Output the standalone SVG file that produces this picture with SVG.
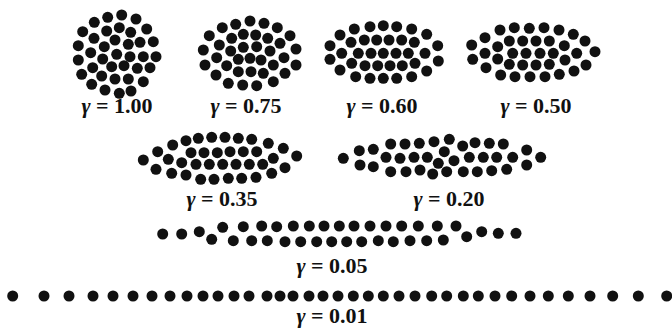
<svg xmlns="http://www.w3.org/2000/svg" xmlns:xlink="http://www.w3.org/1999/xlink" width="672" height="330" viewBox="0 0 672 330">
<style>
.bg{fill:#ffffff}
use{fill:#111111}
text{font-family:"Liberation Serif","Times New Roman",serif;font-size:22px;font-weight:bold;fill:#111111;text-anchor:middle}
.g{font-style:italic}
</style>
<defs><circle id="d" r="5.5"/></defs>
<rect class="bg" width="672" height="330"/>
<g id="c100">
<use href="#d" x="121.7" y="15"/><use href="#d" x="107.7" y="17.3"/><use href="#d" x="136" y="19"/><use href="#d" x="94.3" y="22.3"/>
<use href="#d" x="119.3" y="27.7"/><use href="#d" x="146.7" y="29"/><use href="#d" x="106.7" y="31"/><use href="#d" x="130.7" y="32.3"/><use href="#d" x="82.7" y="31.7"/>
<use href="#d" x="94" y="38.3"/><use href="#d" x="115" y="40"/><use href="#d" x="140" y="42.3"/><use href="#d" x="128.3" y="44.3"/><use href="#d" x="153.3" y="41.7"/>
<use href="#d" x="78.3" y="45.7"/><use href="#d" x="104.3" y="46.7"/><use href="#d" x="90.7" y="52.7"/><use href="#d" x="116.7" y="54.3"/><use href="#d" x="130" y="56.7"/>
<use href="#d" x="143.3" y="56.7"/><use href="#d" x="156" y="56.7"/><use href="#d" x="78.3" y="60"/><use href="#d" x="102.7" y="59"/><use href="#d" x="92.7" y="67.7"/>
<use href="#d" x="111.7" y="66.7"/><use href="#d" x="124" y="65.7"/><use href="#d" x="137.3" y="68.3"/><use href="#d" x="150" y="67.7"/><use href="#d" x="81.7" y="74.3"/>
<use href="#d" x="101.7" y="76"/><use href="#d" x="115" y="79"/><use href="#d" x="128.3" y="79"/><use href="#d" x="143.3" y="81.7"/><use href="#d" x="91.7" y="84.3"/>
<use href="#d" x="105" y="90"/><use href="#d" x="119.3" y="93.3"/><use href="#d" x="131" y="91"/>
<text x="117" y="113"><tspan class="g">γ</tspan> = 1.00</text>
</g>
<g id="c075">
<use href="#d" x="250" y="21"/><use href="#d" x="235.7" y="24.3"/><use href="#d" x="264" y="23.3"/><use href="#d" x="277.3" y="27.7"/><use href="#d" x="222.3" y="27.7"/>
<use href="#d" x="209.3" y="35.7"/><use href="#d" x="231.7" y="38.3"/><use href="#d" x="243.3" y="34.3"/><use href="#d" x="255.7" y="35"/><use href="#d" x="267.7" y="38.3"/>
<use href="#d" x="290" y="35.7"/><use href="#d" x="280" y="43.3"/><use href="#d" x="219.3" y="45"/><use href="#d" x="243.3" y="47.3"/><use href="#d" x="256.7" y="46.7"/>
<use href="#d" x="203.3" y="50"/><use href="#d" x="230.7" y="51"/><use href="#d" x="270" y="51"/><use href="#d" x="296" y="49"/><use href="#d" x="216.7" y="57.7"/>
<use href="#d" x="238.3" y="59.3"/><use href="#d" x="250" y="58.3"/><use href="#d" x="261" y="60"/><use href="#d" x="284" y="57.7"/><use href="#d" x="205" y="65"/>
<use href="#d" x="226.7" y="65.7"/><use href="#d" x="273.3" y="65"/><use href="#d" x="296" y="65"/><use href="#d" x="238.3" y="71.7"/><use href="#d" x="251" y="71.7"/>
<use href="#d" x="263.3" y="73.3"/><use href="#d" x="216" y="75"/><use href="#d" x="285" y="73.3"/><use href="#d" x="228.3" y="83.3"/><use href="#d" x="242.7" y="85"/>
<use href="#d" x="256.7" y="85.7"/><use href="#d" x="273.3" y="81.7"/>
<text x="246" y="113"><tspan class="g">γ</tspan> = 0.75</text>
</g>
<g id="c060">
<use href="#d" x="354.3" y="29"/><use href="#d" x="370" y="26.7"/><use href="#d" x="383.3" y="25.7"/><use href="#d" x="396.7" y="26.7"/><use href="#d" x="411.7" y="29"/>
<use href="#d" x="340" y="35"/><use href="#d" x="426.7" y="34.3"/>
<use href="#d" x="351" y="42.3"/><use href="#d" x="364.3" y="40"/><use href="#d" x="376.7" y="40"/><use href="#d" x="389" y="40"/><use href="#d" x="401.7" y="40"/><use href="#d" x="414.3" y="42.3"/>
<use href="#d" x="330" y="45.7"/><use href="#d" x="437.7" y="45.7"/>
<use href="#d" x="341.7" y="53.3"/><use href="#d" x="358.3" y="53.3"/><use href="#d" x="371" y="53.3"/><use href="#d" x="383.3" y="53.3"/><use href="#d" x="396" y="53.3"/><use href="#d" x="408.3" y="53.3"/><use href="#d" x="425" y="53.3"/>
<use href="#d" x="330" y="59.3"/><use href="#d" x="438.3" y="61"/>
<use href="#d" x="351.7" y="63.3"/><use href="#d" x="365" y="65.7"/><use href="#d" x="377.7" y="65.7"/><use href="#d" x="390" y="65.7"/><use href="#d" x="402.3" y="65.7"/><use href="#d" x="415" y="63.3"/>
<use href="#d" x="340" y="70"/><use href="#d" x="426.7" y="71"/>
<use href="#d" x="355.7" y="76.7"/><use href="#d" x="370" y="78.3"/><use href="#d" x="383.3" y="78.3"/><use href="#d" x="396.7" y="78.3"/><use href="#d" x="411.7" y="76.7"/>
<text x="382" y="113"><tspan class="g">γ</tspan> = 0.60</text>
</g>
<g id="c050">
<use href="#d" x="500" y="30"/><use href="#d" x="514.3" y="27.7"/><use href="#d" x="529.3" y="28.3"/><use href="#d" x="544" y="27.7"/><use href="#d" x="559" y="30"/>
<use href="#d" x="485" y="37.7"/><use href="#d" x="573.3" y="34.3"/>
<use href="#d" x="509.3" y="41"/><use href="#d" x="522.7" y="41"/><use href="#d" x="536" y="41"/><use href="#d" x="549.3" y="41"/>
<use href="#d" x="471.7" y="45"/><use href="#d" x="497.7" y="46.7"/><use href="#d" x="564.3" y="45.7"/><use href="#d" x="585" y="41"/>
<use href="#d" x="485" y="53.3"/><use href="#d" x="512.7" y="53.3"/><use href="#d" x="526" y="53.3"/><use href="#d" x="540" y="53.3"/><use href="#d" x="553.3" y="53.3"/><use href="#d" x="576.7" y="53.3"/><use href="#d" x="595" y="51.7"/>
<use href="#d" x="472.7" y="59.3"/><use href="#d" x="497.7" y="59"/><use href="#d" x="565" y="60"/>
<use href="#d" x="509.3" y="64.3"/><use href="#d" x="522.7" y="65"/><use href="#d" x="536" y="65"/><use href="#d" x="549.3" y="64.3"/><use href="#d" x="586" y="65"/>
<use href="#d" x="486" y="67.7"/><use href="#d" x="574" y="71"/>
<use href="#d" x="500.7" y="75"/><use href="#d" x="515" y="76.7"/><use href="#d" x="530" y="76.7"/><use href="#d" x="545" y="76.7"/><use href="#d" x="559.3" y="74.3"/>
<text x="536" y="113"><tspan class="g">γ</tspan> = 0.50</text>
</g>
<g id="c035">
<use href="#d" x="186" y="140.7"/><use href="#d" x="198.3" y="138.3"/><use href="#d" x="211.7" y="137.3"/><use href="#d" x="225" y="137.3"/><use href="#d" x="238.3" y="138.3"/><use href="#d" x="251.7" y="139.3"/>
<use href="#d" x="172.7" y="145"/><use href="#d" x="268.3" y="143.3"/><use href="#d" x="157.7" y="151.7"/><use href="#d" x="283.3" y="148.3"/>
<use href="#d" x="191" y="152.7"/><use href="#d" x="204" y="152.7"/><use href="#d" x="217.3" y="152.7"/><use href="#d" x="230" y="151.7"/><use href="#d" x="243.3" y="151.7"/><use href="#d" x="256.7" y="151.7"/>
<use href="#d" x="143.3" y="160"/><use href="#d" x="296.7" y="156"/><use href="#d" x="168.3" y="159.3"/><use href="#d" x="181.7" y="162.7"/><use href="#d" x="273.3" y="158.3"/>
<use href="#d" x="196" y="164.3"/><use href="#d" x="209.3" y="164.3"/><use href="#d" x="222.7" y="164.3"/><use href="#d" x="236" y="164.3"/><use href="#d" x="249.3" y="164.3"/><use href="#d" x="262.7" y="164.3"/>
<use href="#d" x="156" y="169.3"/><use href="#d" x="285" y="167.7"/>
<use href="#d" x="171.7" y="173.3"/><use href="#d" x="186" y="175"/><use href="#d" x="200.7" y="179.3"/><use href="#d" x="214" y="179.3"/><use href="#d" x="228.3" y="178.3"/><use href="#d" x="241.7" y="178.3"/><use href="#d" x="256" y="177.3"/><use href="#d" x="271.7" y="173.3"/>
<text x="222" y="206"><tspan class="g">γ</tspan> = 0.35</text>
</g>
<g id="c020">
<use href="#d" x="343.3" y="158.3"/><use href="#d" x="359.3" y="150.7"/><use href="#d" x="360" y="165"/><use href="#d" x="373.3" y="149.3"/><use href="#d" x="373.3" y="166.7"/>
<use href="#d" x="390.7" y="144"/><use href="#d" x="405" y="144"/><use href="#d" x="419.3" y="143.3"/><use href="#d" x="434" y="141.7"/><use href="#d" x="449.3" y="139.3"/><use href="#d" x="462.7" y="146"/><use href="#d" x="475" y="142.7"/><use href="#d" x="489.3" y="143.3"/><use href="#d" x="503.3" y="144"/><use href="#d" x="526.7" y="150"/>
<use href="#d" x="386" y="157.3"/><use href="#d" x="400" y="158.3"/><use href="#d" x="414" y="157.3"/><use href="#d" x="427.3" y="157.3"/><use href="#d" x="444.3" y="151.7"/><use href="#d" x="454" y="160.7"/><use href="#d" x="469.3" y="157.3"/><use href="#d" x="483.3" y="157.3"/><use href="#d" x="496.7" y="157.3"/><use href="#d" x="512.7" y="157.3"/>
<use href="#d" x="438.3" y="163.3"/>
<use href="#d" x="390.7" y="171.7"/><use href="#d" x="406" y="171.7"/><use href="#d" x="420" y="170"/><use href="#d" x="432.7" y="174"/><use href="#d" x="446.7" y="171.7"/><use href="#d" x="463.3" y="171.7"/><use href="#d" x="477.3" y="171.7"/><use href="#d" x="491.7" y="170.7"/><use href="#d" x="506.7" y="169.3"/>
<use href="#d" x="526.7" y="165"/><use href="#d" x="540.7" y="157.3"/>
<text x="449" y="206"><tspan class="g">γ</tspan> = 0.20</text>
</g>
<g id="c005">
<use href="#d" x="162.7" y="234"/><use href="#d" x="181.7" y="234"/><use href="#d" x="199.3" y="231.7"/>
<use href="#d" x="222.7" y="227.3"/><use href="#d" x="243.3" y="226.7"/><use href="#d" x="261.7" y="226"/><use href="#d" x="276.7" y="226.7"/><use href="#d" x="293.3" y="226"/><use href="#d" x="309.3" y="226"/><use href="#d" x="324" y="226"/><use href="#d" x="339.3" y="226"/><use href="#d" x="354" y="226"/><use href="#d" x="370" y="226"/><use href="#d" x="386" y="226"/><use href="#d" x="401.7" y="226"/><use href="#d" x="418.3" y="226"/><use href="#d" x="437.3" y="226"/><use href="#d" x="456" y="226"/>
<use href="#d" x="481.7" y="231.7"/><use href="#d" x="498.3" y="233.3"/><use href="#d" x="516" y="233.3"/>
<use href="#d" x="211.7" y="239.3"/><use href="#d" x="233.3" y="240.7"/><use href="#d" x="251.7" y="240.7"/><use href="#d" x="267.3" y="240.7"/><use href="#d" x="285" y="241.7"/><use href="#d" x="300.7" y="241.7"/><use href="#d" x="316.7" y="241.7"/><use href="#d" x="331.7" y="241.7"/><use href="#d" x="346.7" y="241.7"/><use href="#d" x="361.7" y="241.7"/><use href="#d" x="378.3" y="240.7"/><use href="#d" x="393.3" y="241.7"/><use href="#d" x="410" y="240.7"/><use href="#d" x="426.7" y="240.7"/><use href="#d" x="443.3" y="240"/><use href="#d" x="466.7" y="236.7"/>
<text x="332" y="273"><tspan class="g">γ</tspan> = 0.05</text>
</g>
<g id="c001">
<use href="#d" x="12.7" y="296"/><use href="#d" x="44" y="296"/><use href="#d" x="69" y="296"/><use href="#d" x="93" y="296"/><use href="#d" x="113" y="296"/><use href="#d" x="133" y="296"/><use href="#d" x="152" y="296"/><use href="#d" x="170" y="296"/><use href="#d" x="187" y="296"/><use href="#d" x="203" y="296"/><use href="#d" x="218" y="296"/><use href="#d" x="234" y="296"/><use href="#d" x="249" y="296"/><use href="#d" x="267" y="296"/><use href="#d" x="280" y="296"/><use href="#d" x="293" y="296"/><use href="#d" x="309" y="296"/><use href="#d" x="323" y="296"/>
<use href="#d" x="338" y="296"/><use href="#d" x="353.3" y="296"/><use href="#d" x="368.3" y="296"/><use href="#d" x="383.3" y="296"/><use href="#d" x="399" y="296"/><use href="#d" x="415" y="296"/><use href="#d" x="431.7" y="296"/><use href="#d" x="446.7" y="296"/><use href="#d" x="463.3" y="296"/><use href="#d" x="478.3" y="296"/><use href="#d" x="495" y="296"/><use href="#d" x="511.7" y="296"/><use href="#d" x="530" y="296"/><use href="#d" x="548.3" y="296"/><use href="#d" x="568.3" y="296"/><use href="#d" x="590" y="296"/><use href="#d" x="612.7" y="296"/><use href="#d" x="638.3" y="296"/><use href="#d" x="666.7" y="296"/>
<text x="332" y="323"><tspan class="g">γ</tspan> = 0.01</text>
</g>
</svg>
